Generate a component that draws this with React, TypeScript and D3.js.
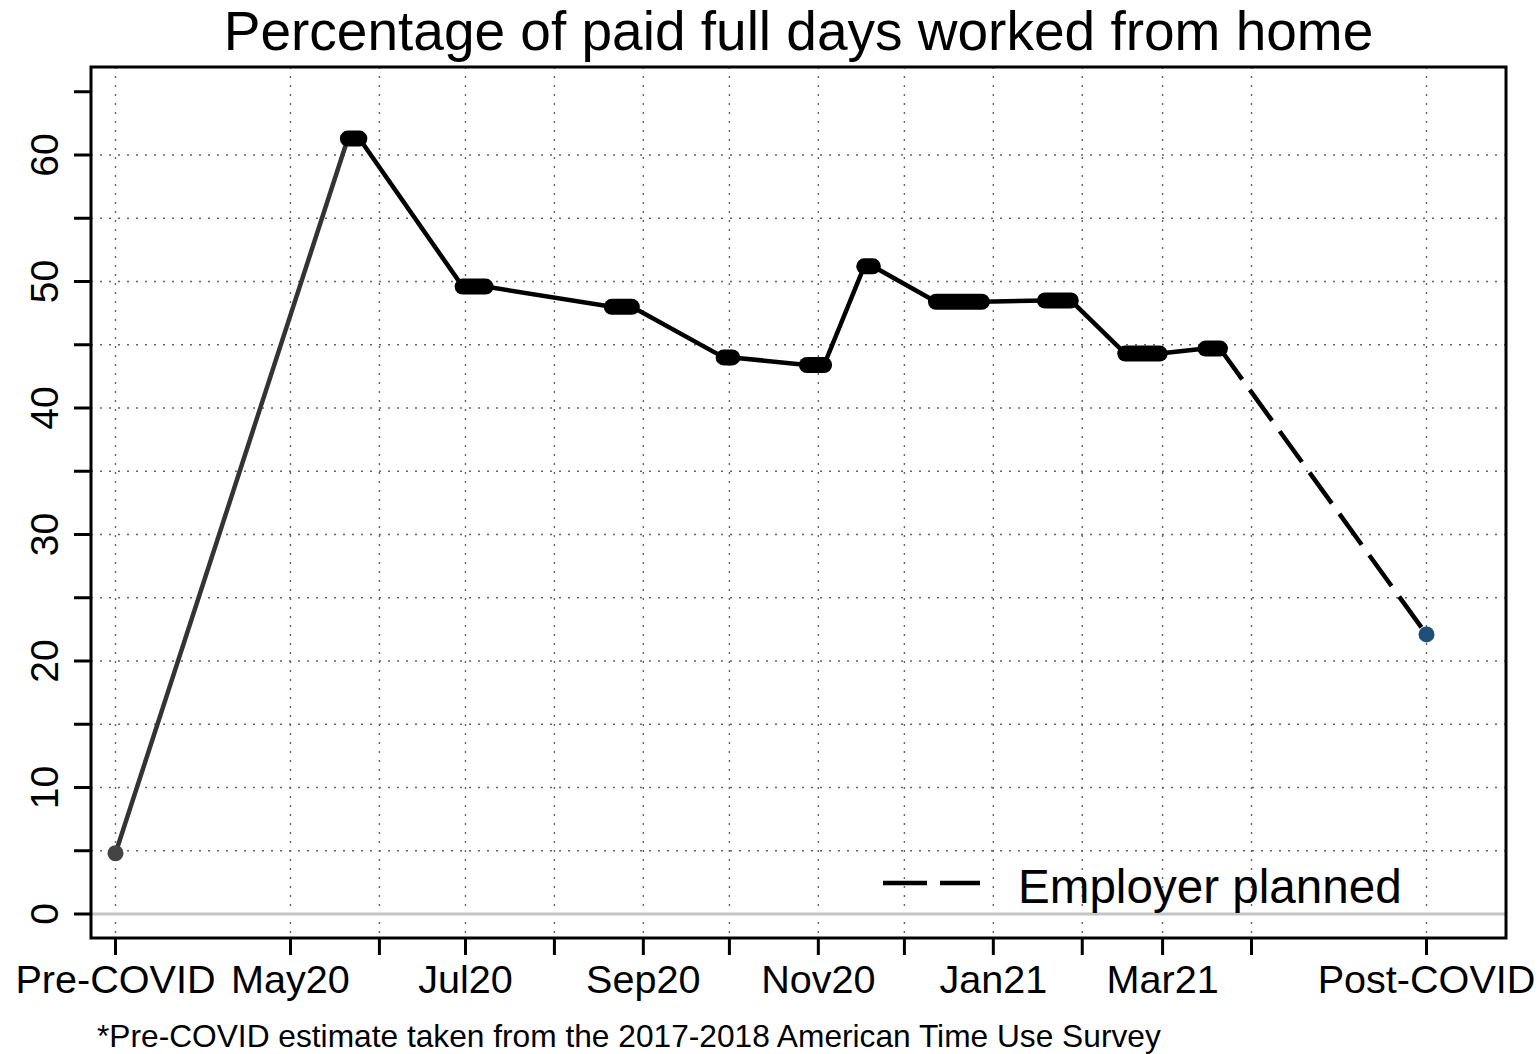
import React from 'react';
import * as d3 from 'd3';

// ---- data ----
const waveStart = ['2020-05-21', '2020-06-30', '2020-08-21', '2020-09-29', '2020-10-28', '2020-11-17', '2020-12-12', '2021-01-19', '2021-02-16', '2021-03-16'];
const waveEnd = ['2020-05-25', '2020-07-08', '2020-08-28', '2020-10-02', '2020-11-03', '2020-11-20', '2020-12-28', '2021-01-28', '2021-02-28', '2021-03-21'];
const waveValues = [61.3, 49.6, 48.0, 44.0, 43.4, 51.2, 48.4, 48.5, 44.3, 44.7];
const preCovidDate = '2020-03-01';
const preCovidValue = 4.8;
const postCovidDate = '2021-06-01';
const postCovidValue = 22.1;
const tickDates = ['2020-03-01', '2020-05-01', '2020-06-01', '2020-07-01', '2020-08-01', '2020-09-01', '2020-10-01', '2020-11-01', '2020-12-01', '2021-01-01', '2021-02-01', '2021-03-01', '2021-04-01', '2021-06-01'];
const tickLabels = ['Pre-COVID', 'May20', '', 'Jul20', '', 'Sep20', '', 'Nov20', '', 'Jan21', '', 'Mar21', '', 'Post-COVID'];
const yTicks = [0, 5, 10, 15, 20, 25, 30, 35, 40, 45, 50, 55, 60, 65];
const yGrid = [5, 10, 15, 20, 25, 30, 35, 40, 45, 50, 55, 60];
const titleText = 'Percentage of paid full days worked from home';
const legendText = 'Employer planned';
const footnote = '*Pre-COVID estimate taken from the 2017-2018 American Time Use Survey';

const parse = d3.utcParse('%Y-%m-%d');
const FONT = 'Liberation Sans, Arial, sans-serif';

export default function App() {
  const W = 1539, H = 1054;
  const box = { left: 91, right: 1506, top: 67, bottom: 938 };
  const x = d3.scaleUtc().domain([parse(preCovidDate)!, parse(postCovidDate)!]).range([115.5, 1426.5]);
  const y = d3.scaleLinear().domain([0, 60]).range([914, 155]);

  const waves = waveValues.map((v, i) => ({
    x0: x(parse(waveStart[i])!),
    x1: x(parse(waveEnd[i])!),
    y: y(v),
  }));

  const line = d3.line<[number, number]>().x(d => d[0]).y(d => d[1]);
  const connectors: [number, number][][] = [];
  for (let i = 0; i < waves.length - 1; i++) {
    connectors.push([[waves[i].x1, waves[i].y], [waves[i + 1].x0, waves[i + 1].y]]);
  }
  const preX = x(parse(preCovidDate)!);
  const postX = x(parse(postCovidDate)!);
  const last = waves[waves.length - 1];

  return (
    <div style={{ position: 'absolute', left: 0, top: 0 }}>
      <svg width={W} height={H} style={{ display: 'block', background: '#fff' }} fontFamily={FONT}>
        <rect x={0} y={0} width={W} height={H} fill="#fff" />
        {/* title */}
        <text x={(box.left + box.right) / 2} y={50} textAnchor="middle" fontSize={55} fill="#000">{titleText}</text>

        {/* grid */}
        {yGrid.map(v => (
          <line key={'hg' + v} x1={box.left} x2={box.right} y1={y(v)} y2={y(v)} stroke="#666" strokeWidth={1.4} strokeDasharray="2,7" />
        ))}
        {tickDates.map(d => (
          <line key={'vg' + d} x1={x(parse(d)!)} x2={x(parse(d)!)} y1={box.top} y2={box.bottom} stroke="#666" strokeWidth={1.4} strokeDasharray="2,7" />
        ))}
        {/* zero line */}
        <line x1={box.left} x2={box.right} y1={y(0)} y2={y(0)} stroke="#c4c4c4" strokeWidth={3} />

        {/* pre-covid connector */}
        <path d={line([[preX, y(preCovidValue)], [waves[0].x0, waves[0].y]])!} stroke="#333" strokeWidth={4.5} fill="none" />
        {/* connectors */}
        {connectors.map((c, i) => (
          <path key={'c' + i} d={line(c)!} stroke="#000" strokeWidth={4.5} fill="none" />
        ))}
        {/* dashed planned */}
        <path d={line([[last.x1, last.y], [postX, y(postCovidValue)]])!} stroke="#000" strokeWidth={4.5} fill="none" strokeDasharray="38,13" />
        {/* wave bars */}
        {waves.map((w, i) => (
          <line key={'w' + i} x1={w.x0} x2={w.x1} y1={w.y} y2={w.y} stroke="#000" strokeWidth={16} strokeLinecap="round" />
        ))}
        {/* points */}
        <circle cx={preX} cy={y(preCovidValue)} r={8} fill="#444" />
        <circle cx={postX} cy={y(postCovidValue)} r={8} fill="#1f4e79" />

        {/* legend */}
        <line x1={883} x2={980} y1={883} y2={883} stroke="#000" strokeWidth={4.5} strokeDasharray="44,13" />
        <text x={1018} y={903} fontSize={47.6} fill="#000">{legendText}</text>

        {/* box */}
        <rect x={box.left} y={box.top} width={box.right - box.left} height={box.bottom - box.top} fill="none" stroke="#000" strokeWidth={3} />

        {/* y axis */}
        {yTicks.map(v => (
          <line key={'yt' + v} x1={74} x2={box.left} y1={y(v)} y2={y(v)} stroke="#000" strokeWidth={3} />
        ))}
        {yTicks.filter(v => v % 10 === 0).map(v => (
          <text key={'yl' + v} transform={`translate(58,${y(v)}) rotate(-90)`} textAnchor="middle" fontSize={39} fill="#000">{v}</text>
        ))}

        {/* x axis */}
        {tickDates.map((d, i) => (
          <g key={'xt' + d}>
            <line x1={x(parse(d)!)} x2={x(parse(d)!)} y1={box.bottom} y2={955} stroke="#000" strokeWidth={3} />
            {tickLabels[i] && (
              <text x={x(parse(d)!)} y={993} textAnchor="middle" fontSize={39.6} fill="#000">{tickLabels[i]}</text>
            )}
          </g>
        ))}

        {/* footnote */}
        <text x={97} y={1047} fontSize={31.7} fill="#000">{footnote}</text>
      </svg>
    </div>
  );
}
